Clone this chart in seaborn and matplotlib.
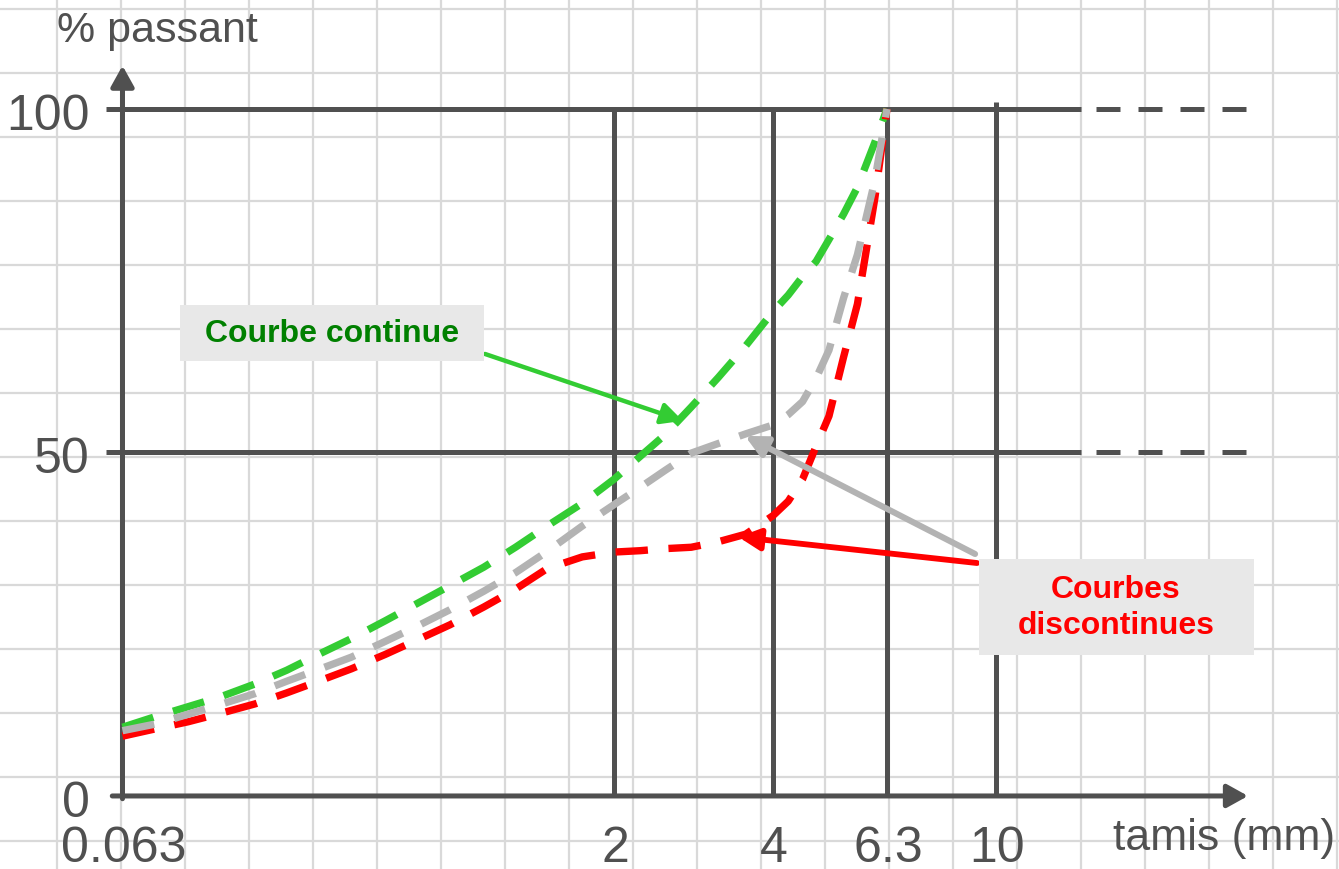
import numpy as np
import pandas as pd
import matplotlib
matplotlib.use("Agg")
import matplotlib.pyplot as plt
from matplotlib.path import Path
import seaborn as sns

# --- data ---
SIEVE_TICKS = [0.063, 2, 4, 6.3, 10]
SIEVE_LABELS = ["0.063", "2", "4", "6.3", "10"]
PCT_TICKS = [0, 50, 100]

SIEVES = [0.063, 0.08, 0.1, 0.125, 0.16, 0.2, 0.25, 0.315, 0.4, 0.5, 0.63, 0.8,
          1, 1.25, 1.6, 2, 2.24, 2.5, 2.8, 3.15, 3.55, 4, 4.25, 4.5, 4.75, 5, 5.3,
          5.6, 6, 6.3]
GREEN = [10.0, 11.6, 13.0, 14.4, 16.3, 18.3, 20.6, 22.9, 25.5, 28.0, 30.6, 33.3,
         36.2, 39.3, 42.6, 46.1, 49.4, 52.6, 56.6, 60.9, 65.5, 70.5, 72.9, 75.6, 77.8,
         81.0, 84.7, 88.6, 95.1, 100]
GRAY = [9.5, 10.5, 11.9, 13.3, 14.9, 16.7, 18.4, 20.2, 22.5, 24.7, 27.1, 29.8,
        32.5, 35.6, 39.3, 42.4, 44.9, 47.4, 49.9, 51.3, 52.7, 54.0, 55.5, 57.4, 60.8,
        64.9, 72.5, 78.8, 89.5, 100]
RED = [8.7, 9.8, 10.8, 12.0, 13.4, 15.0, 16.7, 18.5, 20.6, 22.7, 24.9, 27.5,
       30.1, 33.1, 34.8, 35.5, 35.7, 36.0, 36.2, 37.0, 38.1, 40.8, 42.9, 46.1, 50.9,
       55.3, 63.9, 71.6, 86.9, 100]

# annotation arrow tips (mm, %)
TIP_GREEN = (2.70, 54.6)
TIP_GRAY = (3.54, 52.4)
TIP_RED = (3.44, 37.7)

DARK = "#505050"
GRID = "#d9d9d9"
C_GREEN = "#33cc33"
C_GRAY = "#b3b3b3"
C_RED = "#ff0000"

# --- the x axis is piecewise log: position of each sieve in grid cells ---
TICK_CELLS = np.array([0.0, 7.68, 10.164, 11.945, 13.648])
LOG_TICKS = np.log10(SIEVE_TICKS)
SLOPE_L = (TICK_CELLS[1] - TICK_CELLS[0]) / (LOG_TICKS[1] - LOG_TICKS[0])
SLOPE_R = (TICK_CELLS[-1] - TICK_CELLS[-2]) / (LOG_TICKS[-1] - LOG_TICKS[-2])


def mm_to_cells(x):
    lx = np.log10(np.clip(np.asarray(x, dtype=float), 1e-6, None))
    out = np.interp(lx, LOG_TICKS, TICK_CELLS)
    out = np.where(lx < LOG_TICKS[0], TICK_CELLS[0] + (lx - LOG_TICKS[0]) * SLOPE_L, out)
    out = np.where(lx > LOG_TICKS[-1], TICK_CELLS[-1] + (lx - LOG_TICKS[-1]) * SLOPE_R, out)
    return out


def cells_to_mm(c):
    c = np.asarray(c, dtype=float)
    lx = np.interp(c, TICK_CELLS, LOG_TICKS)
    lx = np.where(c < TICK_CELLS[0], LOG_TICKS[0] + (c - TICK_CELLS[0]) / SLOPE_L, lx)
    lx = np.where(c > TICK_CELLS[-1], LOG_TICKS[-1] + (c - TICK_CELLS[-1]) / SLOPE_R, lx)
    return 10 ** lx


def padded_box(padx, pady):
    def box(x0, y0, width, height, mutation_size):
        x0, y0 = x0 - padx, y0 - pady
        w, h = width + 2 * padx, height + 2 * pady
        return Path([(x0, y0), (x0 + w, y0), (x0 + w, y0 + h), (x0, y0 + h), (x0, y0)],
                    closed=True)
    return box


sns.set_style("white")
plt.rcParams["font.family"] = ["Liberation Sans", "DejaVu Sans"]

fig = plt.figure(figsize=(13.39, 8.70), dpi=100)
ax = fig.add_axes([0, 0, 1, 1])
ax.set_xscale("function", functions=(mm_to_cells, cells_to_mm))

# light background grid (one cell = 64 px)
for c in np.arange(-2, 21) - 0.0234:
    ax.axvline(float(cells_to_mm(c)), color=GRID, lw=1.6, zorder=0)
for y in 2.77 + 9.316 * np.arange(-2, 14):
    ax.axhline(y, color=GRID, lw=1.6, zorder=0)

# heavy reference lines
x_start = float(cells_to_mm(-0.26))
x_solid = float(cells_to_mm(14.977))
x_dash0 = float(cells_to_mm(15.211))
x_dash1 = float(cells_to_mm(17.555))
for y in [50, 100]:
    ax.plot([x_start, x_solid], [y, y], color=DARK, lw=3.6, solid_capstyle="butt", zorder=2)
    ax.plot([x_dash0, x_dash1], [y, y], color=DARK, lw=3.6, linestyle=(0, (4.8, 3.6)),
            dash_capstyle="butt", zorder=2)
for t in SIEVE_TICKS[1:]:
    top = 101 if t == 10 else 100
    ax.plot([t, t], [0, top], color=DARK, lw=3.6, solid_capstyle="butt", zorder=2)

# axes with arrows
ax.annotate("", xy=(SIEVE_TICKS[0], 106.3), xytext=(SIEVE_TICKS[0], -0.4),
            arrowprops=dict(arrowstyle="-|>,head_length=0.45,head_width=0.25",
                            mutation_scale=28, color=DARK, lw=3.6, shrinkA=0, shrinkB=0),
            zorder=3)
ax.annotate("", xy=(float(cells_to_mm(17.586)), 0), xytext=(float(cells_to_mm(-0.16)), 0),
            arrowprops=dict(arrowstyle="-|>,head_length=0.45,head_width=0.25",
                            mutation_scale=28, color=DARK, lw=3.6, shrinkA=0, shrinkB=0),
            zorder=3)

# grading curves
curves = [("continue", GREEN, C_GREEN), ("discontinue 2", RED, C_RED),
          ("discontinue 1", GRAY, C_GRAY)]
for name, vals, col in curves:
    df = pd.DataFrame({"tamis": SIEVES, "passant": vals})
    sns.lineplot(data=df, x="tamis", y="passant", ax=ax, color=col, lw=5.3,
                 linestyle=(0, (4.4, 2.8)), dash_capstyle="butt", zorder=4)

# tick labels
for t, lab in zip(SIEVE_TICKS, SIEVE_LABELS):
    ax.annotate(lab, xy=(t, 0), xytext=(1, -65), textcoords="offset pixels",
                ha="center", va="baseline", fontsize=36, color=DARK)
for v in PCT_TICKS:
    ax.annotate(str(v), xy=(SIEVE_TICKS[0], v), xytext=(-33, -20), textcoords="offset pixels",
                ha="right", va="baseline", fontsize=36, color=DARK)

ax.text(0.0426, 0.9517, "% passant", transform=ax.transAxes, ha="left", va="baseline",
        fontsize=31, color=DARK)
ax.text(0.997, 0.0230, "tamis (mm)", transform=ax.transAxes, ha="right", va="baseline",
        fontsize=32, color=DARK)

# call-out arrows
arrow_kw = dict(arrowstyle="-|>,head_length=0.4,head_width=0.2", mutation_scale=32,
                shrinkA=0, shrinkB=0)
ax.annotate("", xy=TIP_GREEN, xytext=(0.3622, 0.5920), textcoords="axes fraction",
            arrowprops=dict(color=C_GREEN, lw=3.2, **arrow_kw), zorder=5)
ax.annotate("", xy=TIP_GRAY, xytext=(0.7282, 0.3621), textcoords="axes fraction",
            arrowprops=dict(color=C_GRAY, lw=4.4, **arrow_kw), zorder=5)
ax.annotate("", xy=TIP_RED, xytext=(0.7297, 0.3517), textcoords="axes fraction",
            arrowprops=dict(color=C_RED, lw=4.2, **arrow_kw), zorder=5)

# call-out boxes
ax.text(0.2479, 0.6161, "Courbe continue", transform=ax.transAxes, ha="center", va="center",
        fontsize=23, fontweight="bold", color="#008000", zorder=6,
        bbox=dict(boxstyle=padded_box(25, 13), facecolor="#e8e8e8", edgecolor="none"))
ax.text(0.8335, 0.3011, "Courbes\ndiscontinues", transform=ax.transAxes, ha="center",
        va="center", multialignment="center", linespacing=1.25, fontsize=23,
        fontweight="bold", color=C_RED, zorder=6,
        bbox=dict(boxstyle=padded_box(39, 15), facecolor="#e8e8e8", edgecolor="none"))

ax.set_xlim(float(cells_to_mm(-122.5 / 64)), float(cells_to_mm((1339 - 122.5) / 64)))
ax.set_ylim(-10.63, 116.0)
ax.set_axis_off()

fig.savefig("out.png", dpi=100)
